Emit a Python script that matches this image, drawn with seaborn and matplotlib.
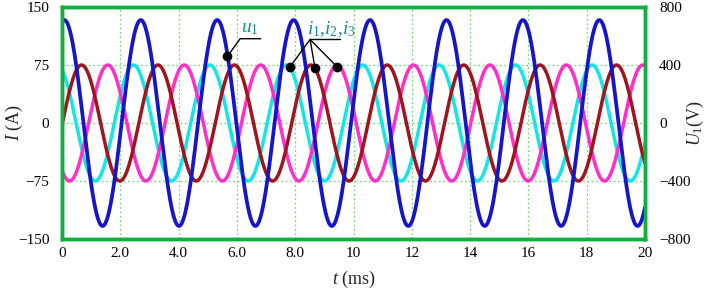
import numpy as np
import pandas as pd
import matplotlib
matplotlib.use("Agg")
import matplotlib.pyplot as plt
import seaborn as sns

# values
period_ms = 2.622                     # same period for voltage and currents
t_range = [0, 20]

# phase currents (left axis, A): amplitude and time of first peak
current_names = ["i1", "i2", "i3"]
current_amp = [75, 75, 75]
current_peak = [0.67, 1.57, 2.45]
current_colors = ["#a0141e", "#ff2fc8", "#14e6e6"]

# supply voltage (right axis, V)
volt_amp = 710
volt_peak = 0.08
volt_color = "#1616c8"

x_ticks = [0, 2, 4, 6, 8, 10, 12, 14, 16, 18, 20]
x_tick_labels = ["0", "2.0", "4.0", "6.0", "8.0", "10", "12", "14", "16", "18", "20"]
i_ticks = [-150, -75, 0, 75, 150]
u_ticks = [-800, -400, 0, 400, 800]

# annotation anchors (data coords of left axis)
u_dot = (5.67, 86)
i_dots = [(7.82, 72.5), (8.68, 71), (9.44, 72.5)]

sns.set_style("white")
plt.rcParams["font.family"] = ["Liberation Serif", "DejaVu Serif"]
plt.rcParams["mathtext.fontset"] = "custom"
plt.rcParams["mathtext.rm"] = "Liberation Serif"
plt.rcParams["mathtext.it"] = "Liberation Serif:italic"

t = np.linspace(t_range[0], t_range[1], 2001)
rows = []
for name, a, p in zip(current_names, current_amp, current_peak):
    rows.append(pd.DataFrame({"t": t, "I": a * np.cos(2 * np.pi * (t - p) / period_ms), "phase": name}))
cur = pd.concat(rows, ignore_index=True)
volt = pd.DataFrame({"t": t, "U": volt_amp * np.cos(2 * np.pi * (t - volt_peak) / period_ms)})

fig = plt.figure(figsize=(7.06, 2.93), dpi=100)
ax = fig.add_axes([62 / 706, 1 - 239 / 293, (645 - 62) / 706, (239 - 7) / 293])

# draw cyan first, red last so the order looks like the reference
order = ["i3", "i2", "i1"]
sns.lineplot(data=cur, x="t", y="I", hue="phase", hue_order=order,
             palette=dict(zip(current_names, current_colors)),
             linewidth=2.5, legend=False, ax=ax, estimator=None)
ax.set_xlim(*t_range)
ax.set_ylim(-150, 150)

ax2 = ax.twinx()
sns.lineplot(data=volt, x="t", y="U", color=volt_color, linewidth=2.7, ax=ax2, estimator=None)
ax2.set_ylim(-800, 800)

grid_col = "#7ad67a"
ax.set_xticks(x_ticks)
ax.set_xticklabels(x_tick_labels)
ax.set_yticks(i_ticks)
ax2.set_yticks(u_ticks)
ax.grid(True, color=grid_col, linestyle=(0, (1.5, 2)), linewidth=0.9)
ax.set_axisbelow(True)

for a in (ax, ax2):
    for s in a.spines.values():
        s.set_color("#10b040")
        s.set_linewidth(2.5)
    a.tick_params(length=0, labelsize=11, colors="black")
ax.tick_params(axis="y", pad=9)
ax.tick_params(axis="x", pad=6)
ax2.tick_params(axis="y", pad=10)

ax.set_xlabel(r"$t$ (ms)", fontsize=13, labelpad=6)
ax.set_ylabel(r"$I$ (A)", fontsize=13, labelpad=2)
ax2.set_ylabel(r"$U_{\mathrm{1}}$(V)", fontsize=13, labelpad=6)
ax.yaxis.set_label_coords(-0.063, 0.5)
ax2.yaxis.set_label_coords(1.068, 0.5)

# annotations
lab_col = "#1f8c8c"
ax2.set_zorder(ax.get_zorder() + 1)
tr = ax.transData
ax2.plot([u_dot[0], 6.11, 6.82], [u_dot[1], 109, 109], color="black", lw=1,
         transform=tr)
ax2.plot([u_dot[0]], [u_dot[1]], "o", color="black", ms=6, transform=tr)
ax2.text(6.45, 122, r"$u_{\mathrm{1}}$", color=lab_col, fontsize=14,
         ha="center", va="center", transform=tr)
for dx, dy in i_dots:
    ax2.plot([8.51, dx], [108, dy], color="black", lw=1, transform=tr)
    ax2.plot([dx], [dy], "o", color="black", ms=6, transform=tr)
ax2.plot([8.51, 9.54], [108, 108], color="black", lw=1, transform=tr)
ax2.text(9.25, 122, r"$i_{\mathrm{1}}{,}i_{\mathrm{2}}{,}i_{\mathrm{3}}$", color=lab_col,
         fontsize=14, ha="center", va="center", transform=tr)

fig.savefig("out.png", dpi=100)
